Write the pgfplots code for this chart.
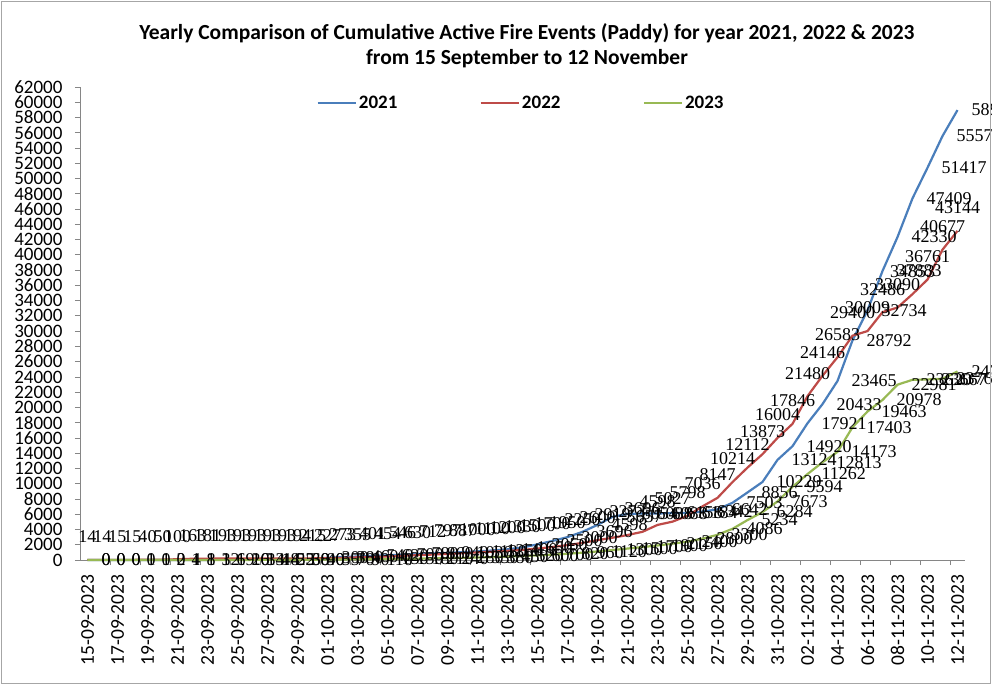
\documentclass[border=0pt]{standalone}
\usepackage{fontspec}
\setmainfont{Carlito}
\newfontfamily\seriflab{Liberation Serif}
\usepackage{pgfplots}
\usepackage{pgfplotstable}
\pgfplotsset{compat=1.18}
\definecolor{cA}{HTML}{4A7EBB}
\definecolor{cB}{HTML}{BE4B48}
\definecolor{cC}{HTML}{98B954}
\definecolor{axgray}{HTML}{868686}

\pgfplotstableread{
i  a     b     c
0  0     14    0
1  0     14    0
2  0     15    0
3  1     15    0
4  1     40    0
5  2     50    0
6  4     100   1
7  8     163   1
8  12    181   3
9  19    193   6
10 26    193   10
11 33    193   14
12 44    193   18
13 55    193   22
14 68    194   30
15 90    215   40
16 300   227   55
17 380   273   70
18 460   355   90
19 540   401   110
20 620   454   130
21 700   546   150
22 780   630   180
23 860   712   210
24 940   797   240
25 1030  887   280
26 1130  1000  330
27 1250  1100  380
28 1400  1200  450
29 1650  1330  520
30 2050  1500  600
31 2500  1700  700
32 3000  1950  820
33 3696  2250  960
34 4598  2600  1120
35 5657  2919  1300
36 6054  3273  1500
37 6088  3696  1700
38 6088  4598  1900
39 6158  5027  2150
40 6184  5798  2400
41 6342  7036  2800
42 6642  8147  3300
43 7503  10214 4086
44 8856  12112 5234
45 10229 13873 6284
46 13124 16004 7673
47 14920 17846 9594
48 17921 21480 11262
49 20433 24146 12813
50 23465 26583 14173
51 28792 29400 17403
52 32734 30009 19463
53 37883 32486 20978
54 42330 33090 22981
55 47409 34853 23620
56 51417 36761 23667
57 55573 40677 23760
58 58976 43144 24717
}\datatable

\begin{document}
\begin{tikzpicture}
\useasboundingbox (-80pt,-125pt) rectangle (912pt,560pt);
\clip (-80pt,-125pt) rectangle (912pt,560pt);
\fill[white] (-80pt,-125pt) rectangle (912pt,560pt);
\begin{axis}[
  at={(0pt,0pt)}, anchor=south west,
  scale only axis, width=885pt, height=473pt,
  xmin=-0.5, xmax=58.5, ymin=0, ymax=62000,
  clip=false,
  axis x line*=bottom, axis y line*=left,
  axis line style={axgray, line width=0.8pt, -},
  tick align=outside, major tick length=5pt,
  ytick={0,2000,...,62000},
  scaled y ticks=false,
  /pgf/number format/1000 sep={},
  /pgf/number format/assume math mode=true,
  y tick label style={font=\fontsize{19}{19}\selectfont, xshift=-9pt},
  ytick style={axgray, line width=0.8pt},
  xtick={0,2,...,58},
  xticklabels={15-09-2023,17-09-2023,19-09-2023,21-09-2023,23-09-2023,25-09-2023,27-09-2023,29-09-2023,01-10-2023,03-10-2023,05-10-2023,07-10-2023,09-10-2023,11-10-2023,13-10-2023,15-10-2023,17-10-2023,19-10-2023,21-10-2023,23-10-2023,25-10-2023,27-10-2023,29-10-2023,31-10-2023,02-11-2023,04-11-2023,06-11-2023,08-11-2023,10-11-2023,12-11-2023},
  x tick label style={rotate=90, anchor=east, font=\fontsize{19.5}{19.5}\selectfont},
  xticklabel shift=6pt,
  xtick style={draw=none},
  extra x ticks={1.5,3.5,...,57.5},
  extra x tick labels={},
  extra x tick style={xtick style={draw=axgray, line width=0.8pt}},
  legend style={at={(0.4983,0.966)}, anchor=center, draw=none, fill=none,
    font=\bfseries\fontsize{19}{19}\selectfont,
    /tikz/every even column/.append style={column sep=80pt}},
  legend columns=3,
  legend image code/.code={\draw[#1, line width=2.5pt] (0pt,0pt) -- (38pt,0pt);},
  no markers,
]
\addplot[cA, line width=2.2pt, nodes near coords,
  every node near coord/.append style={font=\seriflab\fontsize{18}{18}\selectfont, text=black, anchor=west, xshift=9.7pt}]
  table[x=i, y=a] {\datatable};
\addlegendentry{2021}
\addplot[cB, line width=2.2pt, nodes near coords,
  every node near coord/.append style={font=\seriflab\fontsize{18}{18}\selectfont, text=black, anchor=center, yshift=23pt}]
  table[x=i, y=b] {\datatable};
\addlegendentry{2022}
\addplot[cC, line width=2.2pt, nodes near coords,
  every node near coord/.append style={font=\seriflab\fontsize{18}{18}\selectfont, text=black, anchor=west, xshift=9.7pt}]
  table[x=i, y=c] {\datatable};
\addlegendentry{2023}
\end{axis}
\node[align=center, font=\bfseries\fontsize{21.5}{25}\selectfont] at (447pt,514pt)
  {Yearly Comparison of Cumulative Active Fire Events (Paddy) for year 2021, 2022 \& 2023\\from 15 September to 12 November};
\draw[black!35, line width=1pt] (-78pt,-123pt) rectangle (910pt,558pt);
\end{tikzpicture}
\end{document}
